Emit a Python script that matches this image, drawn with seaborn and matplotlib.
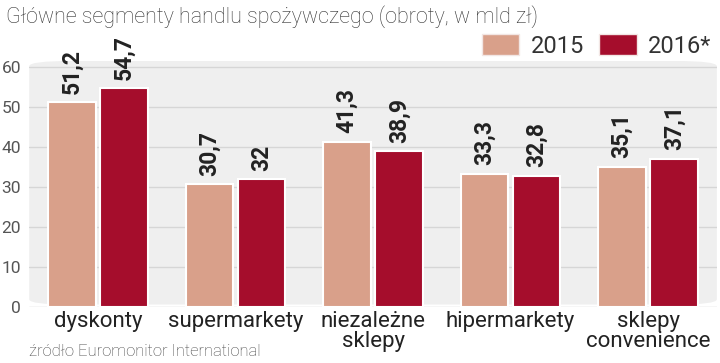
import matplotlib
matplotlib.use("Agg")
import matplotlib.pyplot as plt
from matplotlib.patches import FancyBboxPatch, Patch
import seaborn as sns
import pandas as pd

categories = ["dyskonty", "supermarkety", "niezależne\nsklepy", "hipermarkety", "sklepy\nconvenience"]
years = ["2015", "2016*"]
values_2015 = [51.2, 30.7, 41.3, 33.3, 35.1]
values_2016 = [54.7, 32.0, 38.9, 32.8, 37.1]
yticks = [0, 10, 20, 30, 40, 50, 60]
title = "Główne segmenty handlu spożywczego (obroty, w mld zł)"
source = "źródło Euromonitor International"
colors = ["#D9A08A", "#A50D2C"]

df = pd.DataFrame({
    "segment": categories * 2,
    "rok": [years[0]] * len(categories) + [years[1]] * len(categories),
    "value": values_2015 + values_2016,
})

sns.set_theme(style="white")
plt.rcParams["font.family"] = ["Roboto", "DejaVu Sans"]

fig = plt.figure(figsize=(7.2, 3.63), dpi=100)
ax = fig.add_axes([0.0406, 0.1543, 0.955, 0.6777])
ax.set_facecolor("none")

bg = FancyBboxPatch((0, 0.01), 1.0, 0.99, boxstyle="round,pad=0,rounding_size=0.06",
                    transform=ax.transAxes, facecolor="#EFEFEF", edgecolor="none",
                    zorder=0, mutation_aspect=0.35)
ax.add_patch(bg)

sns.barplot(data=df, x="segment", y="value", hue="rok", palette=colors,
            saturation=1, width=0.76, gap=0.09, edgecolor="white", linewidth=1.5,
            ax=ax, legend=False, zorder=3, errorbar=None)

for cont in ax.containers:
    labels = [f"{b.get_height():g}".replace(".", ",") for b in cont]
    ax.bar_label(cont, labels=labels, rotation=90, padding=6,
                 fontsize=16.5, fontweight="bold", color="#222222")

ax.set_ylim(0, 61.5)
ax.set_xlim(-0.5, len(categories) - 0.5)
ax.set_yticks(yticks)
ax.yaxis.grid(True, color="#D6D6D6", linewidth=1)
ax.set_axisbelow(True)
for s in ax.spines.values():
    s.set_visible(False)
ax.set_xlabel("")
ax.set_ylabel("")
ax.tick_params(axis="y", length=0, pad=6, labelsize=12.5, labelcolor="#555555")
ax.tick_params(axis="x", length=0, pad=3, labelsize=16, labelcolor="#222222")
for t in ax.get_xticklabels():
    t.set_linespacing(0.92)

fig.text(0.008, 0.985, title, ha="left", va="top", fontsize=15.5,
         fontweight="light", color="#333333")
fig.text(0.04, 0.01, source, ha="left", va="bottom", fontsize=12,
         fontweight="light", color="#444444")

handles = [Patch(facecolor=c, edgecolor="#F2E6E4", linewidth=1) for c in colors]
fig.legend(handles, years, loc="upper right", bbox_to_anchor=(1.018, 0.965), ncol=2,
           frameon=False, fontsize=17, handlelength=1.6, handleheight=1.0,
           handletextpad=0.5, columnspacing=0.6, labelcolor="#333333")

fig.savefig("out.png", dpi=100, facecolor="white")
